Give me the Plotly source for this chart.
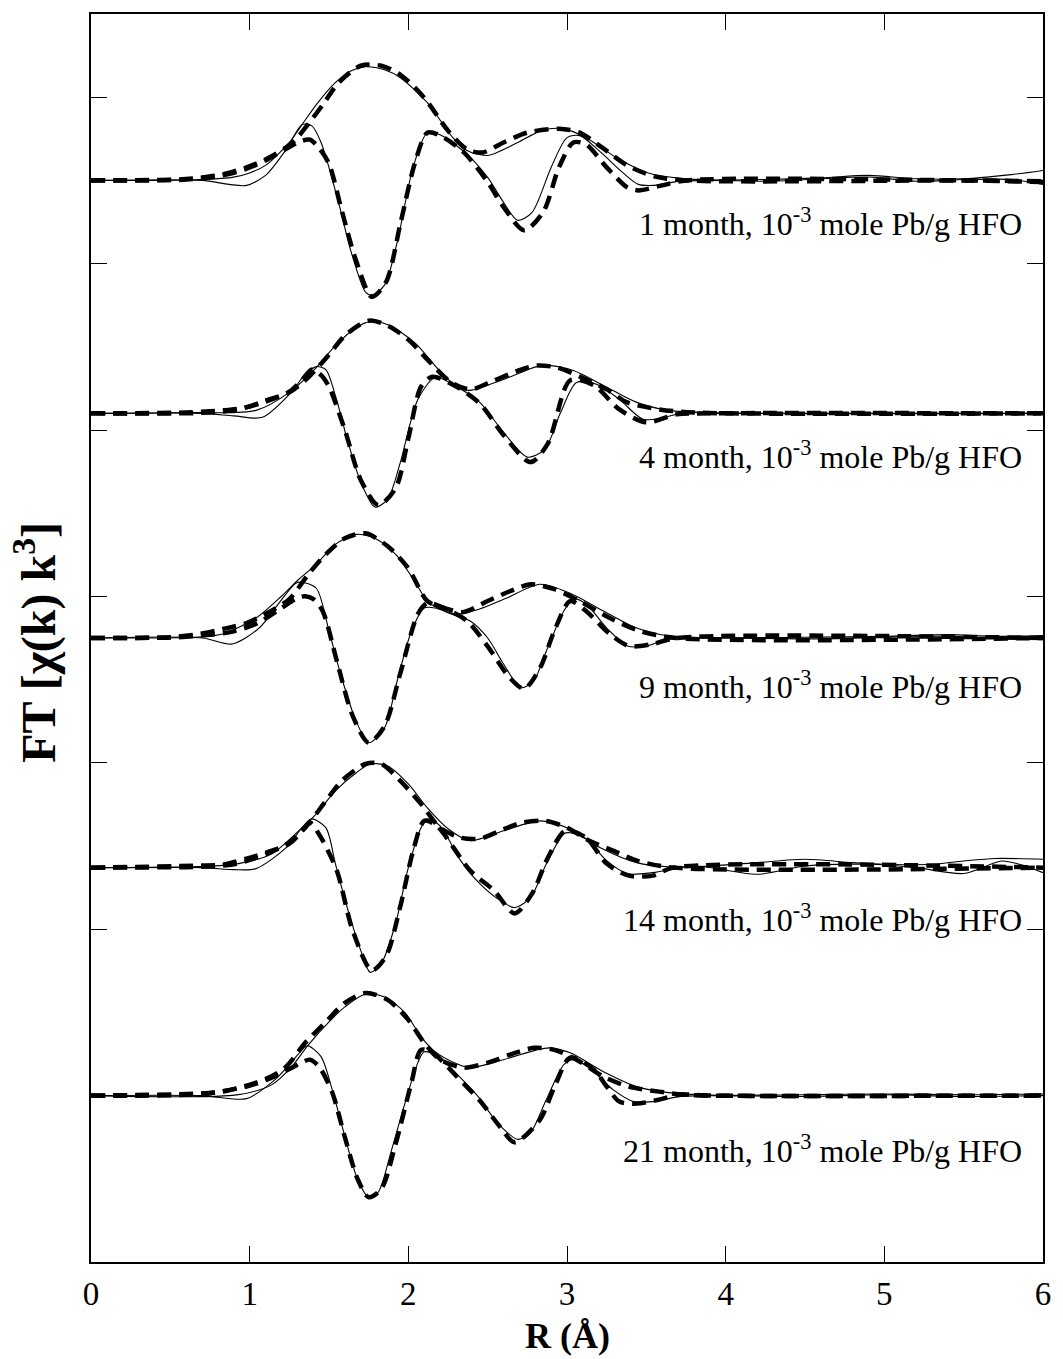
import plotly.graph_objects as go

# Fourier-transformed Pb LIII EXAFS, k^3-weighted: magnitude and imaginary part
# (R in Angstrom, FT amplitude in arbitrary units). Each spectrum is stacked
# on its own vertical offset.

SAMPLES = ["1 month", "4 month", "9 month", "14 month", "21 month"]
OFFSETS = [65.0, 51.0, 37.5, 23.7, 10.0]
LABEL_Y = [62.5, 48.5, 34.7, 20.7, 6.8]

X_TICKS = [0, 1, 2, 3, 4, 5, 6]
Y_TICKS = [10, 20, 30, 40, 50, 60, 70]

# ---- 1 month -----------------------------------------------------------
M1_DATA = [(0, 0), (0.6, 0.02), (0.89, 0.18), (1.0, 0.45), (1.10, 0.90), (1.25, 2.28),
           (1.33, 3.35), (1.43, 4.67), (1.54, 5.87), (1.64, 6.59), (1.73, 6.83),
           (1.85, 6.65), (1.95, 6.17), (2.12, 4.67), (2.28, 2.57), (2.37, 1.80),
           (2.5, 1.50), (2.69, 2.28), (2.84, 2.99), (2.97, 3.11), (3.12, 2.57),
           (3.31, 1.38), (3.5, 0.48), (3.8, 0.06), (4.2, 0.05), (4.6, 0.15),
           (4.9, 0.3), (5.2, 0.1), (5.5, 0.1), (5.8, 0.35), (6.0, 0.6)]
M1_FIT = [(0, 0), (0.56, 0.06), (0.70, 0.18), (0.83, 0.36), (0.98, 0.78), (1.10, 1.26),
          (1.23, 1.98), (1.30, 2.57), (1.40, 3.77), (1.47, 4.67), (1.56, 5.87),
          (1.70, 6.89), (1.83, 6.89), (1.95, 6.35), (2.10, 4.97), (2.25, 2.99),
          (2.37, 1.86), (2.47, 1.68), (2.60, 2.28), (2.75, 2.87), (2.95, 3.11),
          (3.08, 2.87), (3.22, 1.98), (3.38, 0.90), (3.55, 0.24), (3.75, 0.0),
          (5.5, 0.0), (6.0, -0.05)]
I1_DATA = [(0, 0), (0.7, 0), (0.87, -0.24), (0.98, -0.30), (1.10, 0.30), (1.23, 1.86),
           (1.33, 3.35), (1.39, 3.29), (1.45, 2.28), (1.56, -1.32), (1.64, -4.31),
           (1.73, -6.71), (1.77, -6.89), (1.85, -6.29), (1.93, -3.71), (2.03, 0.78),
           (2.12, 2.87), (2.2, 2.75), (2.37, 1.56), (2.5, 0.18), (2.6, -1.32),
           (2.69, -2.40), (2.78, -1.92), (2.9, 0.78), (3.0, 2.57), (3.08, 2.69),
           (3.2, 1.80), (3.35, 0.48), (3.45, -0.24), (3.55, -0.30), (3.7, -0.06),
           (3.9, 0), (4.3, -0.05), (4.6, 0.1), (4.9, 0.2), (5.2, -0.05), (5.5, 0.05),
           (5.8, 0.05), (6.0, -0.25)]
I1_FIT = [(0, 0), (0.6, 0.05), (0.83, 0.3), (0.98, 0.7), (1.10, 1.2), (1.23, 1.9),
          (1.32, 2.35), (1.38, 2.45), (1.44, 1.9), (1.50, 1.0), (1.58, -1.8),
          (1.67, -4.8), (1.77, -7.0), (1.86, -6.1), (1.95, -2.6), (2.04, 1.0),
          (2.12, 2.87), (2.2, 2.7), (2.35, 1.68), (2.5, -0.1), (2.6, -1.6),
          (2.73, -3.0), (2.85, -1.9), (2.95, 0.8), (3.04, 2.28), (3.12, 2.16),
          (3.25, 0.78), (3.38, -0.42), (3.45, -0.6), (3.6, -0.3), (3.75, 0),
          (5.5, 0.0), (6.0, -0.1)]

# ---- 4 month -----------------------------------------------------------
M2_DATA = [(0, 0), (0.6, 0.05), (1.04, 0.18), (1.25, 1.26), (1.42, 2.75), (1.54, 4.07),
           (1.67, 5.15), (1.76, 5.51), (1.87, 5.33), (2.04, 4.25), (2.19, 2.63),
           (2.31, 1.56), (2.39, 1.38), (2.60, 2.04), (2.81, 2.81), (2.89, 2.87),
           (3.04, 2.57), (3.23, 1.68), (3.44, 0.66), (3.64, 0.18), (3.9, 0.03), (6.0, 0.0)]
M2_FIT = [(0, 0), (0.6, 0.05), (0.83, 0.18), (0.98, 0.36), (1.10, 0.78), (1.25, 1.26),
          (1.37, 2.16), (1.50, 3.53), (1.60, 4.67), (1.75, 5.57), (1.87, 5.27),
          (2.00, 4.43), (2.12, 3.23), (2.27, 1.86), (2.39, 1.44), (2.54, 1.98),
          (2.71, 2.63), (2.81, 2.87), (2.94, 2.75), (3.12, 2.04), (3.25, 1.44),
          (3.38, 0.66), (3.58, 0.24), (3.8, 0.05), (6.0, 0.0)]
I2_DATA = [(0, 0), (0.7, 0), (0.9, -0.15), (1.08, -0.24), (1.25, 1.14), (1.35, 2.34),
           (1.42, 2.81), (1.48, 2.63), (1.54, 1.08), (1.62, -1.74), (1.70, -4.13),
           (1.79, -5.63), (1.87, -5.15), (1.95, -2.93), (2.06, 0.84), (2.17, 2.16),
           (2.29, 1.68), (2.45, 0.66), (2.60, -1.14), (2.75, -2.63), (2.86, -2.16),
           (2.96, 0.06), (3.06, 1.86), (3.19, 1.74), (3.33, 0.84), (3.48, -0.36),
           (3.61, -0.24), (3.75, 0.06), (4.0, 0), (6.0, 0)]
I2_FIT = [(0, 0), (0.7, 0.03), (0.9, 0.2), (1.1, 0.7), (1.25, 1.3), (1.33, 2.0),
          (1.39, 2.63), (1.45, 2.3), (1.50, 1.6), (1.6, -1.0), (1.7, -4.0),
          (1.81, -5.51), (1.92, -4.5), (2.0, -1.5), (2.08, 1.6), (2.15, 2.2),
          (2.29, 1.68), (2.45, 0.6), (2.6, -1.3), (2.77, -2.93), (2.88, -1.8),
          (3.02, 1.98), (3.17, 1.68), (3.33, 0.24), (3.50, -0.54), (3.69, -0.06),
          (3.9, 0), (6.0, 0)]

# ---- 9 month -----------------------------------------------------------
M3_DATA = [(0, 0), (0.68, 0.06), (0.83, 0.24), (1.04, 1.20), (1.20, 2.51), (1.31, 3.53),
           (1.42, 4.43), (1.54, 5.63), (1.67, 6.23), (1.79, 5.99), (1.92, 5.03),
           (2.04, 3.41), (2.12, 2.22), (2.20, 1.74), (2.31, 1.44), (2.45, 1.74),
           (2.62, 2.40), (2.83, 3.23), (3.02, 2.69), (3.23, 1.62), (3.44, 0.60),
           (3.64, 0.12), (3.9, 0.02), (4.6, 0.05), (5.0, 0.1), (5.4, 0.2), (5.7, 0.1),
           (6.0, 0.15)]
M3_FIT = [(0, 0), (0.5, 0.05), (0.68, 0.24), (0.83, 0.54), (0.98, 0.90), (1.10, 1.44),
          (1.25, 2.34), (1.37, 3.83), (1.48, 5.03), (1.60, 5.99), (1.73, 6.29),
          (1.87, 5.51), (2.00, 4.19), (2.12, 2.22), (2.25, 1.74), (2.35, 1.56),
          (2.50, 2.22), (2.64, 2.81), (2.77, 3.23), (2.92, 2.93), (3.08, 2.22),
          (3.27, 1.20), (3.46, 0.42), (3.69, 0.0), (6.0, 0.0)]
I3_DATA = [(0, 0), (0.7, 0), (0.89, -0.36), (1.06, 0.60), (1.18, 2.04), (1.29, 3.29),
           (1.33, 3.35), (1.42, 2.99), (1.50, 0.42), (1.58, -2.40), (1.67, -4.97),
           (1.75, -6.29), (1.85, -5.39), (1.93, -2.57), (2.02, 0.42), (2.10, 1.80),
           (2.17, 1.80), (2.27, 1.44), (2.39, 1.02), (2.50, 0), (2.60, -1.56),
           (2.71, -2.99), (2.79, -2.57), (2.87, -0.78), (2.98, 1.62), (3.04, 2.34),
           (3.12, 2.04), (3.25, 0.60), (3.38, -0.48), (3.50, -0.48), (3.64, -0.06),
           (3.9, 0), (4.6, -0.05), (5.0, 0.05), (5.4, 0.1), (5.8, -0.05), (6.0, 0.05)]
I3_FIT = [(0, 0), (0.5, 0.03), (0.7, 0.15), (0.9, 0.4), (1.05, 0.9), (1.2, 1.8),
          (1.3, 2.4), (1.35, 2.51), (1.40, 2.35), (1.46, 1.62), (1.55, -1.4),
          (1.65, -4.7), (1.75, -6.29), (1.85, -5.3), (1.95, -2.1), (2.06, 1.44),
          (2.12, 2.10), (2.2, 1.9), (2.37, 1.02), (2.5, -0.5), (2.64, -2.40),
          (2.73, -3.05), (2.83, -1.80), (2.92, 0.42), (3.02, 2.22), (3.12, 1.62),
          (3.27, 0.24), (3.39, -0.48), (3.54, -0.36), (3.69, 0), (6.0, 0)]

# ---- 14 month ----------------------------------------------------------
M4_DATA = [(0, 0), (0.68, 0.06), (0.93, 0.24), (1.14, 0.84), (1.29, 2.04), (1.42, 3.23),
           (1.54, 4.61), (1.67, 5.69), (1.76, 6.23), (1.87, 6.11), (2.00, 5.03),
           (2.12, 3.59), (2.25, 2.34), (2.39, 1.62), (2.60, 2.22), (2.83, 2.81),
           (3.00, 2.40), (3.21, 1.20), (3.44, 0.30), (3.64, 0.05), (3.9, 0.1),
           (4.2, 0.3), (4.5, 0.5), (4.8, 0.3), (5.0, 0.2), (5.3, 0.2), (5.5, 0.4),
           (5.7, 0.55), (6.0, 0.5)]
M4_FIT = [(0, 0), (0.68, 0.12), (0.83, 0.18), (0.98, 0.54), (1.12, 0.96), (1.25, 1.44),
          (1.37, 2.63), (1.48, 4.01), (1.58, 5.21), (1.73, 6.23), (1.83, 6.23),
          (1.95, 5.21), (2.08, 3.83), (2.20, 2.40), (2.33, 1.80), (2.45, 1.74),
          (2.58, 2.22), (2.71, 2.69), (2.86, 2.81), (3.00, 2.40), (3.14, 1.62),
          (3.29, 1.02), (3.44, 0.42), (3.67, 0.0), (6.0, 0.0)]
I4_DATA = [(0, 0), (0.7, 0), (0.9, -0.12), (1.04, -0.06), (1.23, 1.20), (1.33, 2.40),
           (1.39, 2.93), (1.48, 2.40), (1.54, 0.24), (1.62, -2.57), (1.70, -4.97),
           (1.76, -6.29), (1.83, -5.75), (1.92, -3.35), (2.00, 0), (2.08, 2.40),
           (2.12, 2.93), (2.20, 2.51), (2.33, 0.42), (2.45, -0.96), (2.58, -1.98),
           (2.67, -2.40), (2.77, -1.80), (2.87, 0.24), (2.98, 2.04), (3.02, 2.10),
           (3.12, 1.74), (3.25, 0.42), (3.38, -0.36), (3.54, -0.30), (3.8, 0.1),
           (4.2, -0.4), (4.5, 0.1), (4.9, 0.2), (5.2, 0.0), (5.5, -0.35), (5.74, 0.4),
           (5.85, 0.2), (6.0, -0.3)]
I4_FIT = [(0, 0), (0.7, 0.06), (0.9, 0.2), (1.1, 0.8), (1.25, 1.5), (1.33, 2.22),
          (1.38, 2.69), (1.45, 1.80), (1.55, -0.2), (1.65, -3.8), (1.77, -6.17),
          (1.86, -5.3), (1.95, -2.3), (2.03, 1.0), (2.10, 2.81), (2.18, 2.5),
          (2.39, -0.18), (2.54, -1.38), (2.67, -2.75), (2.78, -1.56), (2.88, 0.60),
          (2.99, 2.22), (3.12, 1.80), (3.25, 0.24), (3.39, -0.48), (3.54, -0.48),
          (3.67, 0), (6.0, 0)]

# ---- 21 month ----------------------------------------------------------
M5_DATA = [(0, 0), (0.93, 0.06), (1.14, 0.66), (1.26, 1.68), (1.37, 3.05), (1.50, 4.43),
           (1.60, 5.33), (1.73, 6.11), (1.85, 5.93), (1.98, 4.97), (2.08, 3.53),
           (2.17, 2.63), (2.29, 1.98), (2.39, 1.68), (2.60, 2.16), (2.81, 2.75),
           (2.89, 2.87), (3.02, 2.57), (3.23, 1.44), (3.44, 0.54), (3.64, 0.18),
           (3.9, 0.03), (4.5, 0.05), (5.0, 0.1), (5.5, 0.05), (6.0, 0.1)]
M5_FIT = [(0, 0), (0.68, 0.12), (0.83, 0.24), (0.98, 0.60), (1.12, 1.08), (1.23, 1.74),
          (1.35, 3.17), (1.48, 4.43), (1.60, 5.57), (1.73, 6.17), (1.87, 5.75),
          (2.00, 4.55), (2.10, 3.17), (2.20, 2.16), (2.35, 1.68), (2.50, 1.98),
          (2.64, 2.46), (2.79, 2.87), (2.92, 2.75), (3.06, 2.16), (3.23, 1.14),
          (3.39, 0.54), (3.58, 0.24), (3.73, 0.06), (3.9, 0), (6.0, 0)]
I5_DATA = [(0, 0), (0.7, 0), (0.98, -0.18), (1.16, 0.96), (1.26, 1.98), (1.35, 2.93),
           (1.37, 2.99), (1.45, 2.34), (1.52, 0.36), (1.60, -2.46), (1.68, -5.03),
           (1.75, -6.11), (1.81, -5.81), (1.89, -3.41), (1.98, -0.42), (2.06, 1.98),
           (2.10, 2.63), (2.19, 2.34), (2.29, 1.44), (2.44, -0.06), (2.56, -1.62),
           (2.69, -2.63), (2.77, -2.22), (2.87, -0.24), (2.98, 1.86), (3.04, 2.16),
           (3.14, 1.68), (3.29, 0.36), (3.42, -0.36), (3.54, -0.36), (3.71, -0.06),
           (3.9, 0), (4.5, -0.05), (5.0, 0.05), (5.5, -0.05), (6.0, 0.0)]
I5_FIT = [(0, 0), (0.7, 0.1), (0.98, 0.55), (1.12, 1.0), (1.25, 1.6), (1.33, 2.0),
          (1.38, 2.16), (1.44, 1.7), (1.52, 0.2), (1.60, -2.5), (1.68, -5.0),
          (1.75, -6.11), (1.83, -5.6), (1.92, -2.9), (2.02, 0.8), (2.08, 2.75),
          (2.15, 2.6), (2.3, 1.2), (2.45, -0.3), (2.58, -1.9), (2.67, -2.81),
          (2.83, -1.44), (2.92, 0.5), (3.02, 2.28), (3.17, 1.56), (3.25, 0.54),
          (3.33, -0.36), (3.44, -0.48), (3.58, -0.24), (3.71, 0.06), (3.9, 0), (6.0, 0)]

EXPERIMENT = [(M1_DATA, I1_DATA), (M2_DATA, I2_DATA), (M3_DATA, I3_DATA),
              (M4_DATA, I4_DATA), (M5_DATA, I5_DATA)]
FITS = [(M1_FIT, I1_FIT), (M2_FIT, I2_FIT), (M3_FIT, I3_FIT),
        (M4_FIT, I4_FIT), (M5_FIT, I5_FIT)]

SERIF = "Liberation Serif, Times New Roman, serif"

fig = go.Figure()


def add_curve(points, offset, style):
    fig.add_trace(go.Scatter(
        x=[p[0] for p in points],
        y=[p[1] + offset for p in points],
        mode="lines",
        line=dict(shape="spline", smoothing=0.8, **style),
        hoverinfo="skip",
        showlegend=False,
    ))


fit_style = dict(color="black", width=4.5, dash="14px,8px")
data_style = dict(color="black", width=1.1)

for offset, (mag, im) in zip(OFFSETS, FITS):
    add_curve(mag, offset, fit_style)
    add_curve(im, offset, fit_style)

for offset, (mag, im) in zip(OFFSETS, EXPERIMENT):
    add_curve(mag, offset, data_style)
    add_curve(im, offset, data_style)

annotations = []
for name, ly in zip(SAMPLES, LABEL_Y):
    annotations.append(dict(
        x=5.88, y=ly, xref="x", yref="y", xanchor="right", yanchor="middle",
        text=f"{name}, 10<sup>-3</sup> mole Pb/g HFO", showarrow=False,
        font=dict(family=SERIF, size=32, color="black"),
    ))

annotations.append(dict(
    x=3, y=-0.059, xref="x", yref="paper", xanchor="center", yanchor="middle",
    text="<b>R (Å)</b>", showarrow=False,
    font=dict(family=SERIF, size=36, color="black"),
))
annotations.append(dict(
    x=-0.058, y=0.4968, xref="paper", yref="paper", xanchor="center", yanchor="middle",
    text="<b>FT [χ(k) k<sup>3</sup>]</b>", showarrow=False, textangle=-90,
    font=dict(family=SERIF, size=48, color="black"),
))

axis_common = dict(
    showline=True, linecolor="black", linewidth=1.5, mirror="ticks",
    ticks="inside", ticklen=16, tickwidth=1, tickcolor="black",
    showgrid=False, zeroline=False,
)

fig.update_layout(
    width=1063, height=1359,
    margin=dict(l=91, r=14, t=12, b=97),
    paper_bgcolor="white", plot_bgcolor="white",
    xaxis=dict(range=[0, 6], tickvals=X_TICKS, ticktext=[str(t) for t in X_TICKS],
               tickfont=dict(family=SERIF, size=33, color="black"),
               ticklabelstandoff=2, **axis_common),
    yaxis=dict(range=[0, 75], tickvals=Y_TICKS, showticklabels=False, **axis_common),
    annotations=annotations,
)

fig.write_html("out.html")
